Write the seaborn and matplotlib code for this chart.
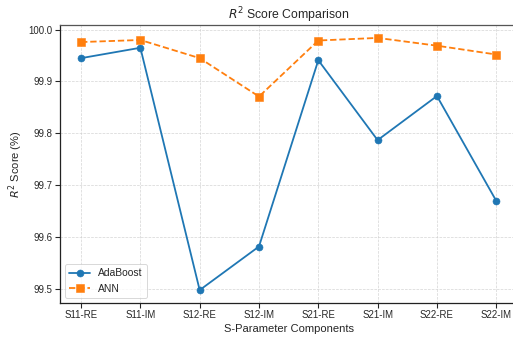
import matplotlib
matplotlib.use("Agg")
import matplotlib.pyplot as plt
import seaborn as sns
import pandas as pd

components = ["S11-RE", "S11-IM", "S12-RE", "S12-IM", "S21-RE", "S21-IM", "S22-RE", "S22-IM"]
adaboost = [99.945, 99.965, 99.498, 99.582, 99.941, 99.787, 99.872, 99.670]
ann = [99.976, 99.980, 99.945, 99.871, 99.979, 99.984, 99.969, 99.952]
models = ["AdaBoost", "ANN"]

df = pd.DataFrame({
    "component": components * 2,
    "score": adaboost + ann,
    "model": ["AdaBoost"] * len(components) + ["ANN"] * len(components),
})

sns.set_style("ticks")
plt.rcParams["font.family"] = ["Liberation Sans", "DejaVu Sans"]
plt.rcParams["mathtext.fontset"] = "dejavusans"

fig = plt.figure(figsize=(513 / 65, 338 / 65), dpi=65)
ax = fig.add_axes([60.3 / 513, 1 - 302.7 / 338, (517 - 60.3) / 513, (302.7 - 25.3) / 338])

sns.lineplot(
    data=df, x="component", y="score", hue="model", style="model",
    hue_order=models, style_order=models,
    palette=["#1f77b4", "#ff7f0e"],
    markers={"AdaBoost": "o", "ANN": "s"},
    dashes={"AdaBoost": "", "ANN": (3.5, 1.6)},
    linewidth=2.0, markersize=7.8, markeredgewidth=0.6,
    sort=False, ax=ax,
)
for line in ax.lines:
    line.set_markeredgecolor(line.get_color())

for s in ax.spines.values():
    s.set_linewidth(1.4)
    s.set_color("#222222")
ax.spines["top"].set_color("#555555")
ax.spines["right"].set_visible(False)
ax.tick_params(width=1.2, length=5)

ax.grid(True, linestyle="--", color="#cccccc", linewidth=0.8, alpha=0.8)
ax.set_axisbelow(True)
ax.set_title("$R^2$ Score Comparison", fontsize=13.5)
ax.set_xlabel("S-Parameter Components", fontsize=12.3)
ax.set_ylabel("$R^2$ Score (%)", fontsize=12.3)
ax.tick_params(labelsize=10.7)
ax.set_yticks([99.5, 99.6, 99.7, 99.8, 99.9, 100.0])
ax.set_yticklabels(["99.5", "99.6", "99.7", "99.8", "99.9", "100.0"])
handles, labels = ax.get_legend_handles_labels()
ax.legend(handles=handles, labels=labels, loc="lower left", fontsize=11.3)

fig.savefig("out.png", dpi=65)
